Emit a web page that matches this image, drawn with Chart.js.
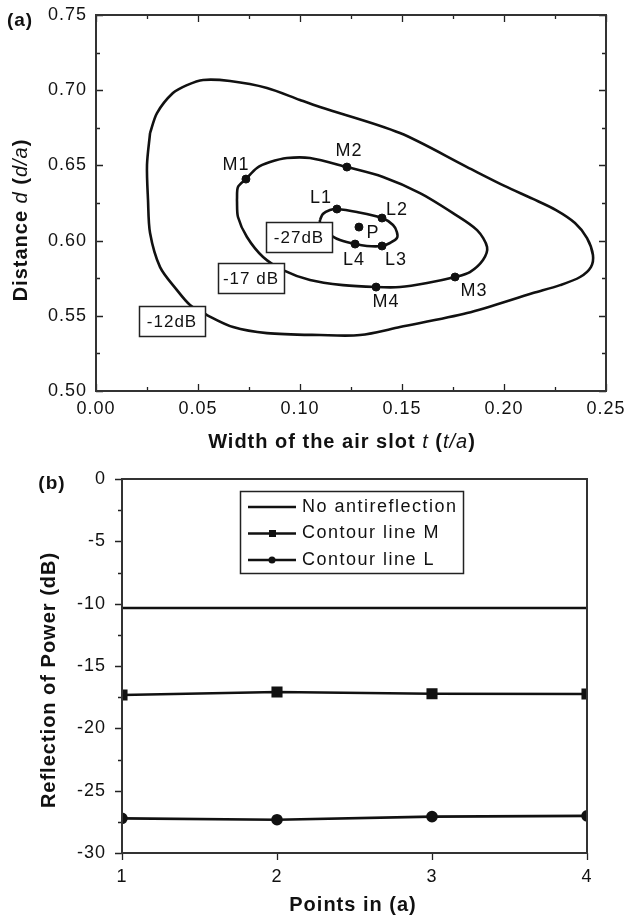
<!DOCTYPE html>
<html>
<head>
<meta charset="utf-8">
<title>Air slot antireflection contours</title>
<script src="https://cdn.jsdelivr.net/npm/chart.js@4/dist/chart.umd.min.js"></script>
<style>
  body { margin: 0; background: #fff; }
  #page { position: relative; width: 625px; height: 918px; }
  #chartA { position: absolute; left: 0; top: 0; }
  #chartB { position: absolute; left: 0; top: 460px; }
</style>
</head>
<body>
<div id="page">
  <canvas id="chartA" width="625" height="460"></canvas>
  <canvas id="chartB" width="625" height="458"></canvas>
</div>
<script>
// ---- panel (a): contour lines, width t/a vs distance d/a ----
const contour12T = [0.0265, 0.0299, 0.0377, 0.0446, 0.0525, 0.0657, 0.0838, 0.1000, 0.1098, 0.1490, 0.1819, 0.2005, 0.2142, 0.2255, 0.2348, 0.2407, 0.2436, 0.2426, 0.2373, 0.2275, 0.2142, 0.1819, 0.1490, 0.1294, 0.1098, 0.0838, 0.0672, 0.0544, 0.0461, 0.0397, 0.0314, 0.0265, 0.0255, 0.0250, 0.0265];
const contour12D = [0.6715, 0.6848, 0.6981, 0.7034, 0.7068, 0.7061, 0.7015, 0.6935, 0.6888, 0.6715, 0.6489, 0.6362, 0.6277, 0.6203, 0.6117, 0.6017, 0.5904, 0.5824, 0.5758, 0.5704, 0.5651, 0.5518, 0.5425, 0.5372, 0.5372, 0.5385, 0.5425, 0.5505, 0.5572, 0.5671, 0.5824, 0.6050, 0.6270, 0.6503, 0.6715];

const contour17T = [0.0691, 0.0696, 0.0735, 0.0789, 0.0853, 0.0936, 0.1049, 0.1230, 0.1407, 0.1588, 0.1750, 0.1868, 0.1917, 0.1897, 0.1833, 0.1760, 0.1623, 0.1490, 0.1373, 0.1211, 0.1049, 0.0917, 0.0819, 0.0740, 0.0696, 0.0691];
const contour17D = [0.6270, 0.6356, 0.6409, 0.6483, 0.6522, 0.6549, 0.6549, 0.6489, 0.6423, 0.6316, 0.6183, 0.6070, 0.5957, 0.5871, 0.5791, 0.5758, 0.5718, 0.5691, 0.5691, 0.5704, 0.5738, 0.5804, 0.5891, 0.6024, 0.6157, 0.6270];

const contour27T = [0.1098, 0.1112, 0.1147, 0.1181, 0.1279, 0.1402, 0.1456, 0.1475, 0.1475, 0.1441, 0.1402, 0.1328, 0.1270, 0.1196, 0.1157, 0.1118, 0.1098, 0.1098];
const contour27D = [0.6137, 0.6177, 0.6203, 0.6210, 0.6190, 0.6150, 0.6104, 0.6057, 0.6017, 0.5984, 0.5964, 0.5964, 0.5977, 0.6004, 0.6030, 0.6070, 0.6110, 0.6137];

const markNames = ["M1", "M2", "M3", "M4", "L1", "L2", "L3", "L4", "P"];
const markT = [0.0735, 0.1230, 0.1760, 0.1373, 0.1181, 0.1402, 0.1402, 0.1270, 0.1289];
const markD = [0.6409, 0.6489, 0.5758, 0.5691, 0.6210, 0.6150, 0.5964, 0.5977, 0.6090];

// where the names sit (data units)
const nameT = [0.0686, 0.1240, 0.1853, 0.1422, 0.1103, 0.1475, 0.1471, 0.1265, 0.1358];
const nameD = [0.6503, 0.6596, 0.5665, 0.5592, 0.6283, 0.6203, 0.5871, 0.5871, 0.6050];

const levelNames = ["-12dB", "-17 dB", "-27dB"];
const levelT = [0.0373, 0.0760, 0.0995];
const levelD = [0.5465, 0.5751, 0.6024];

// ---- panel (b): reflection at the points ----
const pointNo = [1, 2, 3, 4];
const noAntireflection = [-10.35, -10.35, -10.35, -10.35];
const contourLineM = [-17.33, -17.08, -17.22, -17.24];
const contourLineL = [-27.22, -27.33, -27.08, -27.02];

const FONT = '"Liberation Sans", Arial, sans-serif';
const INK = "#111";

function xy(xs, ys) {
  return xs.map((v, i) => ({ x: v, y: ys[i] }));
}

function richText(ctx, parts, cx, cy, rot) {
  ctx.save();
  ctx.translate(cx, cy);
  if (rot) ctx.rotate(rot);
  ctx.textBaseline = "middle";
  ctx.textAlign = "left";
  ctx.fillStyle = INK;
  let total = 0;
  parts.forEach((p) => {
    ctx.font = p[1];
    total += ctx.measureText(p[0]).width;
  });
  let x = -total / 2;
  parts.forEach((p) => {
    ctx.font = p[1];
    ctx.fillText(p[0], x, 0);
    x += ctx.measureText(p[0]).width;
  });
  ctx.restore();
}

// slightly wider text, like the scanned figure
const spacing = {
  id: "spacing",
  beforeUpdate(chart) { chart.ctx.letterSpacing = "1px"; },
  beforeDraw(chart) { chart.ctx.letterSpacing = "1px"; },
};

// frame plus major/minor ticks
const frameTicks = {
  id: "frameTicks",
  afterDatasetsDraw(chart, args, o) {
    const { ctx, chartArea: a, scales } = chart;
    const sx = scales.x, sy = scales.y;
    const dir = o.inward ? 1 : -1;
    ctx.save();
    ctx.strokeStyle = "#222";
    ctx.lineWidth = 1.3;
    ctx.beginPath();
    let n = Math.round((sx.max - sx.min) / o.xMinor);
    for (let i = 0; i <= n; i++) {
      const v = sx.min + i * o.xMinor;
      const len = i % o.xEvery === 0 ? o.major : o.minor;
      const px = Math.round(sx.getPixelForValue(v)) + 0.5;
      ctx.moveTo(px, a.bottom);
      ctx.lineTo(px, a.bottom - dir * len);
      if (o.mirror) {
        ctx.moveTo(px, a.top);
        ctx.lineTo(px, a.top + dir * len);
      }
    }
    n = Math.round((sy.max - sy.min) / o.yMinor);
    for (let i = 0; i <= n; i++) {
      const v = sy.min + i * o.yMinor;
      const len = i % o.yEvery === 0 ? o.major : o.minor;
      const py = Math.round(sy.getPixelForValue(v)) + 0.5;
      ctx.moveTo(a.left, py);
      ctx.lineTo(a.left + dir * len, py);
      if (o.mirror) {
        ctx.moveTo(a.right, py);
        ctx.lineTo(a.right - dir * len, py);
      }
    }
    ctx.stroke();
    ctx.lineWidth = 2;
    ctx.strokeStyle = "#333";
    ctx.strokeRect(a.left, a.top, a.right - a.left, a.bottom - a.top);
    ctx.restore();
  },
};

const titles = {
  id: "titles",
  afterDraw(chart, args, o) {
    const ctx = chart.ctx;
    o.items.forEach((t) => richText(ctx, t.parts, t.x, t.y, t.rot));
  },
};

const annotate = {
  id: "annotate",
  afterDatasetsDraw(chart) {
    const { ctx, scales: { x, y } } = chart;
    ctx.save();
    ctx.font = "18px " + FONT;
    ctx.textAlign = "center";
    ctx.textBaseline = "middle";
    ctx.fillStyle = INK;
    markNames.forEach((name, i) => {
      ctx.fillText(name, x.getPixelForValue(nameT[i]), y.getPixelForValue(nameD[i]));
    });
    ctx.font = "17px " + FONT;
    levelNames.forEach((name, i) => {
      const px = Math.round(x.getPixelForValue(levelT[i]));
      const py = Math.round(y.getPixelForValue(levelD[i]));
      ctx.fillStyle = "#fff";
      ctx.fillRect(px - 33, py - 15, 66, 30);
      ctx.lineWidth = 1.5;
      ctx.strokeStyle = "#222";
      ctx.strokeRect(px - 33 + 0.5, py - 15 + 0.5, 66, 30);
      ctx.fillStyle = INK;
      ctx.fillText(name, px, py + 1);
    });
    ctx.restore();
  },
};

const boxLegend = {
  id: "boxLegend",
  afterDatasetsDraw(chart) {
    const { ctx, chartArea: a } = chart;
    const left = a.left + 118, top = a.top + 12, w = 223, h = 82;
    ctx.save();
    ctx.fillStyle = "#fff";
    ctx.fillRect(left, top, w, h);
    ctx.lineWidth = 1.5;
    ctx.strokeStyle = "#222";
    ctx.strokeRect(left + 0.5, top + 0.5, w, h);
    ctx.font = "18px " + FONT;
    ctx.letterSpacing = "1.5px";
    ctx.textBaseline = "middle";
    ctx.textAlign = "left";
    chart.data.datasets.forEach((ds, i) => {
      const yy = top + 16 + i * 26.5;
      ctx.strokeStyle = INK;
      ctx.fillStyle = INK;
      ctx.lineWidth = 2.5;
      ctx.beginPath();
      ctx.moveTo(left + 8, yy);
      ctx.lineTo(left + 56, yy);
      ctx.stroke();
      if (ds.pointStyle === "rect") {
        ctx.fillRect(left + 29, yy - 3.5, 7, 7);
      } else if (ds.pointRadius > 0) {
        ctx.beginPath();
        ctx.arc(left + 32, yy, 3.5, 0, Math.PI * 2);
        ctx.fill();
      }
      ctx.fillText(ds.label, left + 62, yy);
    });
    ctx.restore();
  },
};

const tickFont = { family: FONT, size: 18 };
const BOLD = "bold 20px " + FONT;
const ITAL = "italic 20px " + FONT;

// keep the plot area where the layout padding puts it
const noPadX = (h) => (s) => { s.height = h; s.paddingLeft = 0; s.paddingRight = 0; };
const noPadY = (w) => (s) => { s.width = w; s.paddingTop = 0; s.paddingBottom = 0; };

const contourStyle = {
  showLine: true,
  pointRadius: 0,
  borderColor: INK,
  borderWidth: 2.6,
  tension: 0.3,
  fill: false,
};

new Chart(document.getElementById("chartA"), {
  type: "scatter",
  data: {
    datasets: [
      { label: "-12dB", data: xy(contour12T, contour12D), ...contourStyle },
      { label: "-17 dB", data: xy(contour17T, contour17D), ...contourStyle },
      { label: "-27dB", data: xy(contour27T, contour27D), ...contourStyle },
      {
        label: "points",
        data: xy(markT, markD),
        showLine: false,
        pointRadius: 4,
        pointBackgroundColor: INK,
        pointBorderColor: INK,
      },
    ],
  },
  options: {
    responsive: false,
    animation: false,
    events: [],
    layout: { padding: { left: 0, right: 19, top: 15, bottom: 0 } },
    scales: {
      x: {
        type: "linear",
        min: 0,
        max: 0.25,
        grid: { display: false, drawTicks: false },
        border: { display: false },
        ticks: {
          stepSize: 0.05,
          padding: 7,
          color: INK,
          font: tickFont,
          maxRotation: 0,
          callback: (v) => v.toFixed(2),
        },
        afterFit: noPadX(69),
      },
      y: {
        type: "linear",
        min: 0.5,
        max: 0.75,
        grid: { display: false, drawTicks: false },
        border: { display: false },
        ticks: {
          stepSize: 0.05,
          padding: 9,
          color: INK,
          font: tickFont,
          callback: (v) => v.toFixed(2),
        },
        afterFit: noPadY(96),
      },
    },
    plugins: {
      legend: { display: false },
      tooltip: { enabled: false },
      frameTicks: { inward: true, mirror: true, xMinor: 0.025, xEvery: 2, yMinor: 0.025, yEvery: 2, major: 7, minor: 4 },
      titles: {
        items: [
          { parts: [["(a)", "bold 19px " + FONT]], x: 20, y: 21 },
          {
            parts: [["Width of the air slot ", BOLD], ["t", ITAL], [" (", BOLD], ["t/a", ITAL], [")", BOLD]],
            x: 342, y: 442,
          },
          {
            parts: [["Distance ", BOLD], ["d", ITAL], [" (", BOLD], ["d/a", ITAL], [")", BOLD]],
            x: 21, y: 220, rot: -Math.PI / 2,
          },
        ],
      },
    },
  },
  plugins: [spacing, annotate, frameTicks, titles],
});

new Chart(document.getElementById("chartB"), {
  type: "line",
  data: {
    datasets: [
      {
        label: "No antireflection",
        data: xy(pointNo, noAntireflection),
        borderColor: INK,
        borderWidth: 2.6,
        pointRadius: 0,
      },
      {
        label: "Contour line M",
        data: xy(pointNo, contourLineM),
        borderColor: INK,
        borderWidth: 2.6,
        pointStyle: "rect",
        pointRadius: 6,
        pointBackgroundColor: INK,
        pointBorderColor: INK,
      },
      {
        label: "Contour line L",
        data: xy(pointNo, contourLineL),
        borderColor: INK,
        borderWidth: 2.6,
        pointStyle: "circle",
        pointRadius: 4.5,
        pointBackgroundColor: INK,
        pointBorderColor: INK,
      },
    ],
  },
  options: {
    responsive: false,
    animation: false,
    events: [],
    layout: { padding: { left: 0, right: 38, top: 19, bottom: 0 } },
    scales: {
      x: {
        type: "linear",
        min: 1,
        max: 4,
        grid: { display: false, drawTicks: false },
        border: { display: false },
        ticks: { stepSize: 1, padding: 13, color: INK, font: tickFont, maxRotation: 0 },
        afterFit: noPadX(65),
      },
      y: {
        type: "linear",
        min: -30,
        max: 0,
        grid: { display: false, drawTicks: false },
        border: { display: false },
        ticks: { stepSize: 5, padding: 16, color: INK, font: tickFont },
        afterFit: noPadY(122),
      },
    },
    plugins: {
      legend: { display: false },
      tooltip: { enabled: false },
      frameTicks: { inward: false, mirror: false, xMinor: 1, xEvery: 1, yMinor: 2.5, yEvery: 2, major: 7, minor: 4 },
      titles: {
        items: [
          { parts: [["(b)", "bold 19px " + FONT]], x: 52, y: 24 },
          { parts: [["Points in (a)", BOLD]], x: 353, y: 445 },
          { parts: [["Reflection of Power (dB)", BOLD]], x: 49, y: 220, rot: -Math.PI / 2 },
        ],
      },
    },
  },
  plugins: [spacing, boxLegend, frameTicks, titles],
});
</script>
</body>
</html>
